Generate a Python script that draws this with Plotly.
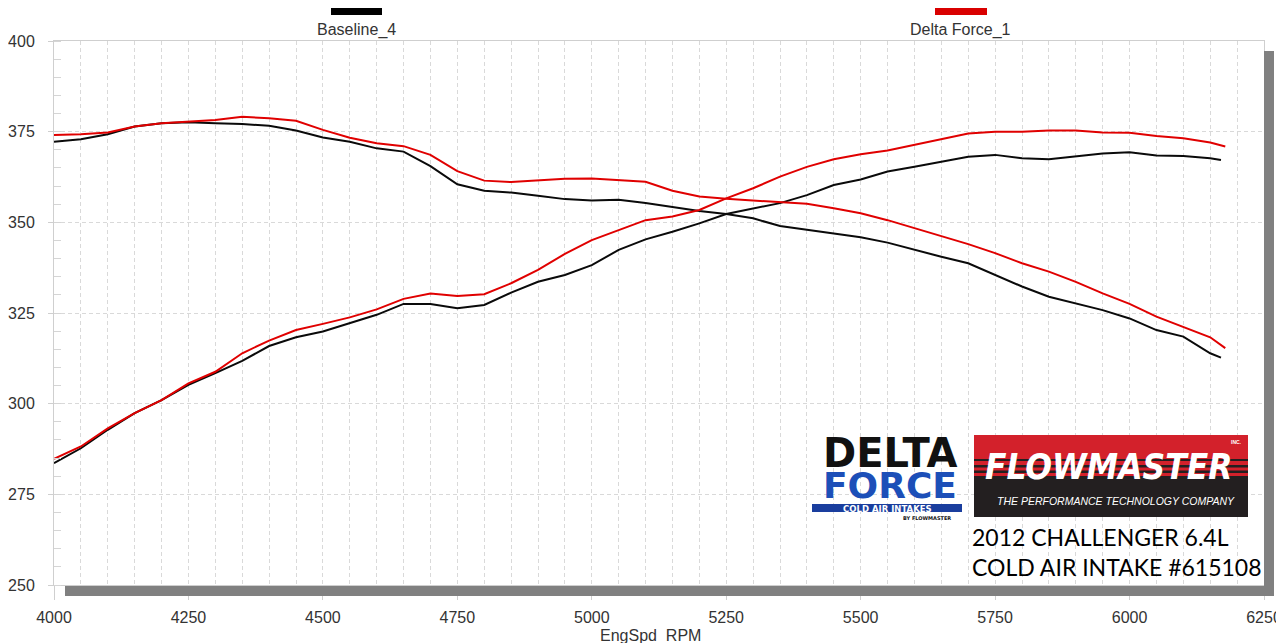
import plotly.graph_objects as go

# ---------------- data ----------------
rpm = [4000, 4050, 4100, 4150, 4200, 4250, 4300, 4350, 4400, 4450,
       4500, 4550, 4600, 4650, 4700, 4750, 4800, 4850, 4900, 4950,
       5000, 5050, 5100, 5150, 5200, 5250, 5300, 5350, 5400, 5450,
       5500, 5550, 5600, 5650, 5700, 5750, 5800, 5850, 5900, 5950,
       6000, 6050, 6100, 6150]
rpm_end_base = 6170
rpm_end_delta = 6178

base_tq = [372.2, 372.9, 374.3, 376.4, 377.3, 377.6, 377.3, 377.1, 376.6, 375.3,
           373.4, 372.2, 370.4, 369.5, 365.5, 360.5, 358.7, 358.2, 357.3, 356.4,
           356.0, 356.2, 355.3, 354.1, 353.1, 352.3, 351.1, 349.0, 347.9, 346.8,
           345.9, 344.4, 342.4, 340.5, 338.7, 335.5, 332.3, 329.5, 327.7, 325.8,
           323.5, 320.3, 318.5, 313.9, 312.7]
delta_tq = [374.1, 374.3, 374.8, 376.4, 377.3, 377.7, 378.2, 379.1, 378.7, 378.0,
            375.5, 373.3, 371.8, 371.0, 368.6, 364.1, 361.5, 361.1, 361.5, 362.0,
            362.1, 361.7, 361.2, 358.7, 357.1, 356.5, 356.0, 355.6, 355.1, 353.9,
            352.5, 350.6, 348.4, 346.2, 344.0, 341.5, 338.7, 336.4, 333.6, 330.4,
            327.5, 324.0, 321.2, 318.3, 315.3]
base_hp = [283.6, 287.7, 292.8, 297.4, 301.0, 305.2, 308.4, 311.8, 315.9, 318.3,
           319.9, 322.3, 324.5, 327.5, 327.5, 326.3, 327.2, 330.6, 333.6, 335.5,
           338.2, 342.4, 345.3, 347.4, 349.7, 352.3, 353.9, 355.3, 357.5, 360.3,
           361.8, 364.0, 365.3, 366.7, 368.1, 368.6, 367.7, 367.4, 368.3, 369.0,
           369.3, 368.4, 368.3, 367.7, 367.2]
delta_hp = [284.8, 288.2, 293.2, 297.4, 301.0, 305.6, 308.8, 313.9, 317.4, 320.3,
            322.0, 323.8, 326.0, 328.9, 330.4, 329.7, 330.2, 333.2, 336.9, 341.3,
            345.1, 347.9, 350.6, 351.6, 353.4, 356.6, 359.4, 362.6, 365.3, 367.4,
            368.8, 369.8, 371.3, 372.9, 374.5, 375.0, 375.0, 375.3, 375.3, 374.8,
            374.7, 373.8, 373.2, 372.0, 370.9]

series_names = ["Baseline_4", "Delta Force_1"]
x_ticks = [4000, 4250, 4500, 4750, 5000, 5250, 5500, 5750, 6000, 6250]
y_ticks = [250, 275, 300, 325, 350, 375, 400]

BLACK = "#0a0a0a"
RED = "#e00000"

x_base = rpm + [rpm_end_base]
x_delta = rpm + [rpm_end_delta]

fig = go.Figure()
for x, y, c, n in [(x_base, base_tq, BLACK, series_names[0]),
                   (x_base, base_hp, BLACK, series_names[0]),
                   (x_delta, delta_tq, RED, series_names[1]),
                   (x_delta, delta_hp, RED, series_names[1])]:
    fig.add_trace(go.Scatter(x=x, y=y, mode="lines", name=n, showlegend=False,
                             line=dict(color=c, width=2), hoverinfo="x+y+name"))

# ---------------- layout helpers (screen pixel -> paper) ----------------
# plot area as it appears on screen; page body adds an 8px offset
PL, PR, PT, PB = 54, 1264, 41, 585
OFF = 8
W, H = 1276, 640


def px(v):
    return (v - PL) / (PR - PL)


def py(v):
    return (PB - v) / (PB - PT)


GRID = "#d9d9d9"
AX = "#cfcfcf"
TICKFONT = dict(family="Liberation Sans, Arial, sans-serif", size=16, color="#333333")

shapes = []


def rect(x0, y0, x1, y1, color):
    shapes.append(dict(type="rect", xref="paper", yref="paper",
                       x0=px(x0), x1=px(x1), y0=py(y1), y1=py(y0),
                       fillcolor=color, line=dict(width=0), layer="above"))


# drop shadow of the plot frame
rect(65, 586, 1274, 596, "#808080")
rect(1264, 51, 1274, 596, "#808080")
# legend swatches
rect(331, 7, 382, 15, "#000000")
rect(935, 7, 987, 15, "#d90000")
# Delta Force logo band
rect(812, 504, 962, 512, "#1a3e9e")
# Flowmaster logo
rect(974, 435, 1248, 476, "#d3212b")
rect(974, 476, 1248, 517, "#231f20")
rect(974, 459, 1248, 461, "#231f20")
rect(974, 465, 1248, 467.5, "#231f20")
rect(974, 470.5, 1248, 473, "#231f20")

annotations = []


def text(x, y, s, size, color="#333333", family="Liberation Sans, Arial, sans-serif",
         xanchor="center", yanchor="middle"):
    annotations.append(dict(xref="paper", yref="paper", x=px(x), y=py(y), text=s,
                            showarrow=False, xanchor=xanchor, yanchor=yanchor,
                            font=dict(family=family, size=size, color=color)))


text(356, 30, series_names[0], 16)
text(960, 30, series_names[1], 16)
text(650, 635, "EngSpd  RPM", 16)

# Delta Force logo text
text(890, 453, "<b>DELTA</b>", 40, "#111111", "DejaVu Sans, sans-serif")
text(890, 485, "<b>FORCE</b>", 36, "#1c4fb8", "DejaVu Sans, sans-serif")
text(887, 508.5, "<b>COLD AIR INTAKES</b>", 8.5, "#ffffff", "DejaVu Sans, sans-serif")
text(927, 518, "<b>BY FLOWMASTER</b>", 5, "#111111", "DejaVu Sans, sans-serif")

# Flowmaster logo text
text(1108, 467, "<b><i>FLOWMASTER</i></b>", 35, "#ffffff",
     "DejaVu Sans Condensed, sans-serif")
text(1116, 501, "<i>THE PERFORMANCE TECHNOLOGY COMPANY</i>", 10.5, "#ffffff")
text(1236, 442, "<b>INC.</b>", 5, "#ffffff")

# caption
text(970, 537, "2012 CHALLENGER 6.4L", 23, "#000000", "Lato, Open Sans, sans-serif", xanchor="left")
text(970, 567, "COLD AIR INTAKE #615108", 23, "#000000", "Lato, Open Sans, sans-serif", xanchor="left")

fig.update_layout(
    width=W, height=H,
    margin=dict(l=PL - OFF, r=W - (PR - OFF), t=PT - OFF, b=H - (PB - OFF), pad=0,
                autoexpand=False),
    paper_bgcolor="#ffffff", plot_bgcolor="#ffffff",
    showlegend=False,
    shapes=shapes, annotations=annotations,
    xaxis=dict(range=[4000, 6250], tickvals=x_ticks, ticktext=[str(v) for v in x_ticks],
               tickfont=TICKFONT, showgrid=True, gridcolor=GRID, griddash="4px,3px",
               gridwidth=1, zeroline=False, showline=True, linecolor=AX, mirror=True,
               ticks="outside", ticklen=14, tickcolor=AX, ticklabelstandoff=4,
               ticklabeloverflow="allow", automargin=False,
               minor=dict(dtick=50, tick0=4000, showgrid=True, gridcolor=GRID,
                          griddash="4px,3px", ticks="")),
    yaxis=dict(range=[250, 400], tickvals=y_ticks, ticktext=[str(v) for v in y_ticks],
               tickfont=TICKFONT, showgrid=True, gridcolor=GRID, griddash="4px,3px",
               zeroline=False, showline=True, linecolor=AX, mirror=True,
               ticks="outside", ticklen=5, tickcolor=AX, ticklabelstandoff=10,
               automargin=False,
               minor=dict(dtick=5, tick0=250, ticks="inside", ticklen=7,
                          tickcolor="#d5d5d5", showgrid=False)),
)

fig.write_html("out.html")
